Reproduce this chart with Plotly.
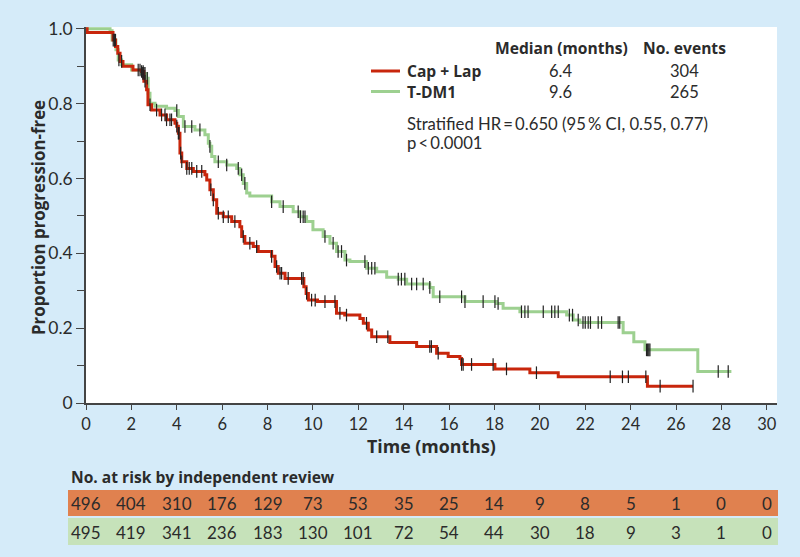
import numpy as np
import plotly.graph_objects as go

# ---------------- data ----------------
cap_lap_time = [0, 0.05, 1.19, 1.3, 1.4, 1.5, 1.63, 2.07, 2.45, 2.55, 2.67, 2.73, 2.89, 3.26, 3.55,
                3.92, 4.0, 4.07, 4.14, 4.22, 4.44, 4.73, 5.24, 5.32, 5.46, 5.61, 5.76, 6.05, 6.42,
                6.78, 6.86, 7.0, 7.37, 7.59, 8.18, 8.33, 8.47, 8.77, 9.6, 9.7, 9.8, 10.2, 11.04,
                11.4, 12.07, 12.22, 12.44, 12.59, 13.39, 14.57, 15.45, 15.96, 16.48, 16.55, 18.02,
                19.56, 20.81, 24.74, 26.75]
cap_lap_surv = [1.0, 0.99, 0.97, 0.953, 0.935, 0.913, 0.90, 0.89, 0.886, 0.86, 0.837, 0.797, 0.783,
                0.77, 0.757, 0.748, 0.74, 0.721, 0.668, 0.645, 0.627, 0.619, 0.61, 0.596, 0.57,
                0.543, 0.507, 0.498, 0.485, 0.471, 0.445, 0.427, 0.418, 0.405, 0.392, 0.365, 0.347,
                0.333, 0.311, 0.293, 0.275, 0.271, 0.24, 0.235, 0.226, 0.213, 0.195, 0.177, 0.162,
                0.151, 0.133, 0.124, 0.119, 0.103, 0.091, 0.081, 0.070, 0.045, 0.045]

tdm1_time = [0, 1.06, 1.15, 1.32, 1.42, 1.57, 2.01, 2.45, 2.67, 2.74, 2.82, 3.04, 3.55, 3.92, 4.07,
             4.29, 4.8, 5.24, 5.39, 5.46, 5.54, 5.68, 6.2, 6.64, 6.78, 6.93, 7.08, 7.22, 8.18,
             8.55, 9.13, 9.43, 9.72, 10.0, 10.45, 10.75, 11.04, 11.41, 11.63, 12.36, 12.81,
             13.25, 13.76, 14.13, 15.15, 15.3, 16.7, 18.09, 18.38, 19.12, 21.18, 21.47, 21.76,
             23.67, 24.14, 24.63, 26.96, 28.44]
tdm1_surv = [1.0, 0.995, 0.97, 0.944, 0.917, 0.904, 0.89, 0.881, 0.868, 0.828, 0.801, 0.793, 0.788,
             0.782, 0.766, 0.739, 0.73, 0.717, 0.694, 0.686, 0.659, 0.645, 0.636, 0.627, 0.61,
             0.587, 0.561, 0.553, 0.538, 0.525, 0.511, 0.498, 0.485, 0.463, 0.445, 0.427, 0.405,
             0.382, 0.378, 0.36, 0.351, 0.336, 0.331, 0.318, 0.309, 0.284, 0.271, 0.266, 0.253,
             0.244, 0.235, 0.222, 0.215, 0.188, 0.164, 0.142, 0.084, 0.084]

cap_lap_censor = [1.2, 1.25, 1.57, 2.38, 2.45, 2.52, 2.6, 2.82, 3.11, 3.33, 3.48, 3.55, 3.7, 3.77,
                  4.0, 4.07, 4.1, 4.17, 4.22, 4.44, 4.55, 4.66, 4.88, 5.1, 5.5, 5.61, 5.83, 6.05,
                  6.27, 6.56, 6.93, 7.22, 7.52, 8.18, 8.4, 8.55, 8.62, 8.91, 9.5, 9.57, 9.72, 9.94,
                  10.1, 10.53, 10.97, 11.19, 11.48, 12.36, 12.81, 13.3, 15.15, 15.22, 15.52, 16.55,
                  16.62, 16.99, 17.94, 18.53, 19.85, 23.1, 23.64, 23.9, 24.67, 25.3, 26.75]
tdm1_censor = [1.3, 1.45, 2.3, 2.5, 2.55, 2.6, 2.7, 4.0, 4.36, 4.66, 5.02, 5.46, 5.83, 6.2, 6.71,
               6.86, 7.0, 8.18, 8.69, 9.35, 9.45, 9.57, 9.65, 10.53, 10.89, 11.11, 11.26, 11.48,
               12.29, 12.44, 12.59, 12.73, 13.76, 13.9, 14.05, 14.35, 14.57, 14.86, 15.15, 15.59,
               16.55, 16.7, 17.5, 18.02, 18.16, 19.19, 19.34, 19.48, 20.15, 20.52, 20.66, 20.81,
               21.3, 21.44, 21.69, 21.9, 22.0, 22.13, 22.23, 22.57, 22.72, 23.45, 23.52, 24.7,
               24.75, 24.8, 24.85, 27.86, 28.3]

risk_times = list(range(0, 31, 2))
risk_cap_lap = [496, 404, 310, 176, 129, 73, 53, 35, 25, 14, 9, 8, 5, 1, 0, 0]
risk_tdm1 = [495, 419, 341, 236, 183, 130, 101, 72, 54, 44, 30, 18, 9, 3, 1, 0]

x_ticks = list(range(0, 31, 2))
y_ticks = [0, 0.2, 0.4, 0.6, 0.8, 1.0]
y_tick_labels = ["0", "0.2", "0.4", "0.6", "0.8", "1.0"]

legend_rows = [("Cap + Lap", "6.4", "304"), ("T-DM1", "9.6", "265")]

# ---------------- style ----------------
RED = "#c8260c"
GREEN = "#9dd090"
BG = "#d5ebf9"
ROW_RED = "#e0814f"
ROW_GREEN = "#c6e2ba"
TXT = "#2b2b2b"
FONT = "Lato, Open Sans, sans-serif"
BOLD_FONT = "Open Sans, Lato, sans-serif"


def step_value(times, surv, t):
    idx = np.searchsorted(np.asarray(times), np.asarray(t), side="right") - 1
    return np.asarray(surv)[idx]


fig = go.Figure()
fig.add_trace(go.Scatter(x=tdm1_time, y=tdm1_surv, mode="lines", line_shape="hv",
                         line=dict(color=GREEN, width=3), showlegend=False, hoverinfo="skip"))
fig.add_trace(go.Scatter(x=cap_lap_time, y=cap_lap_surv, mode="lines", line_shape="hv",
                         line=dict(color=RED, width=3), showlegend=False, hoverinfo="skip"))
for times, surv, cens in [(tdm1_time, tdm1_surv, tdm1_censor),
                          (cap_lap_time, cap_lap_surv, cap_lap_censor)]:
    fig.add_trace(go.Scatter(x=cens, y=step_value(times, surv, cens), mode="markers",
                             marker=dict(symbol="line-ns-open", size=9, color="#222222",
                                         line=dict(color="#222222", width=1.2)),
                             showlegend=False, hoverinfo="skip", cliponaxis=False))

L, R, T, B = 86, 23, 27, 154
W, H = 800, 557
pw, ph = W - L - R, H - T - B


def px(xp):
    return (xp - L) / pw


def py(yp):
    return (H - B - yp) / ph


shapes = []
ann = []


def bold(text, size):
    return dict(text=f"<b>{text}</b>", font=dict(size=size, family=BOLD_FONT))


# legend table
ann.append(dict(**bold("Median (months)", 15.6), x=px(561), y=py(48), xanchor="center"))
ann.append(dict(**bold("No. events", 15.6), x=px(684), y=py(48), xanchor="center"))
for i, ((name, med, ev), col) in enumerate(zip(legend_rows, [RED, GREEN])):
    yy = py(71 + 20.5 * i)
    shapes.append(dict(type="line", xref="paper", yref="paper", x0=px(371), x1=px(400),
                       y0=yy, y1=yy, line=dict(color=col, width=3)))
    ann.append(dict(**bold(name, 15.6), x=px(405), y=yy, xanchor="left"))
    ann.append(dict(text=med, x=px(560), y=yy, xanchor="center", font=dict(size=16.5)))
    ann.append(dict(text=ev, x=px(684), y=yy, xanchor="center", font=dict(size=16.5)))
ann.append(dict(text="Stratified HR\u2009=\u20090.650 (95\u2009% CI, 0.55, 0.77)",
                x=px(405), y=py(124), xanchor="left", font=dict(size=16.7)))
ann.append(dict(text="p\u2009<\u20090.0001", x=px(405), y=py(143), xanchor="left",
                font=dict(size=16.7)))

# axis titles
ann.append(dict(**bold("Time (months)", 17.8), x=px(431), y=py(446), xanchor="center"))
ann.append(dict(**bold("Proportion progression-free", 16.9), x=px(38), y=py(218),
                xanchor="center", textangle=-90))

# risk table
ann.append(dict(**bold("No. at risk by independent review", 15.6), x=px(69), y=py(477),
                xanchor="left"))
shapes.append(dict(type="rect", xref="paper", yref="paper", x0=px(68), x1=px(778),
                   y0=py(490), y1=py(516), fillcolor=ROW_RED, line=dict(width=0), layer="below"))
shapes.append(dict(type="rect", xref="paper", yref="paper", x0=px(68), x1=px(778),
                   y0=py(518), y1=py(545), fillcolor=ROW_GREEN, line=dict(width=0), layer="below"))
for t, a, b in zip(risk_times, risk_cap_lap, risk_tdm1):
    ann.append(dict(text=str(a), x=t, xref="x", y=py(503.5), xanchor="center", font=dict(size=17)))
    ann.append(dict(text=str(b), x=t, xref="x", y=py(532), xanchor="center", font=dict(size=17)))

for a in ann:
    a.setdefault("xref", "paper")
    a["yref"] = "paper"
    a["showarrow"] = False
    a["yanchor"] = "middle"
    f = a.setdefault("font", {})
    f.setdefault("size", 16)
    f.setdefault("color", TXT)
    f.setdefault("family", FONT)

fig.update_layout(
    width=W, height=H,
    margin=dict(l=L, r=R, t=T, b=B, pad=0),
    paper_bgcolor=BG, plot_bgcolor="white",
    font=dict(family=FONT, size=16, color=TXT),
    shapes=shapes, annotations=ann,
    xaxis=dict(range=[0, 30.45], tickvals=x_ticks, ticks="outside", ticklen=5, tickwidth=1.3,
               tickcolor="#444", showline=True, linecolor="#444", linewidth=1.5,
               showgrid=False, zeroline=False, tickfont=dict(size=16.5, color=TXT, family=FONT)),
    yaxis=dict(range=[0, 1.005], tickvals=y_ticks, ticktext=y_tick_labels, ticks="outside",
               ticklen=8, tickwidth=1.3, tickcolor="#444", showline=True, linecolor="#444",
               linewidth=1.5, showgrid=False, zeroline=False,
               tickfont=dict(size=17.5, color=TXT, family=FONT),
               minor=dict(tickvals=[0.1, 0.3, 0.5, 0.7, 0.9], ticks="outside", ticklen=7,
                          tickwidth=1.2, tickcolor="#444", showgrid=False)),
)

fig.write_html("out.html", config={"displayModeBar": False},
               post_script="document.body.style.margin='0';document.body.style.padding='0';")
